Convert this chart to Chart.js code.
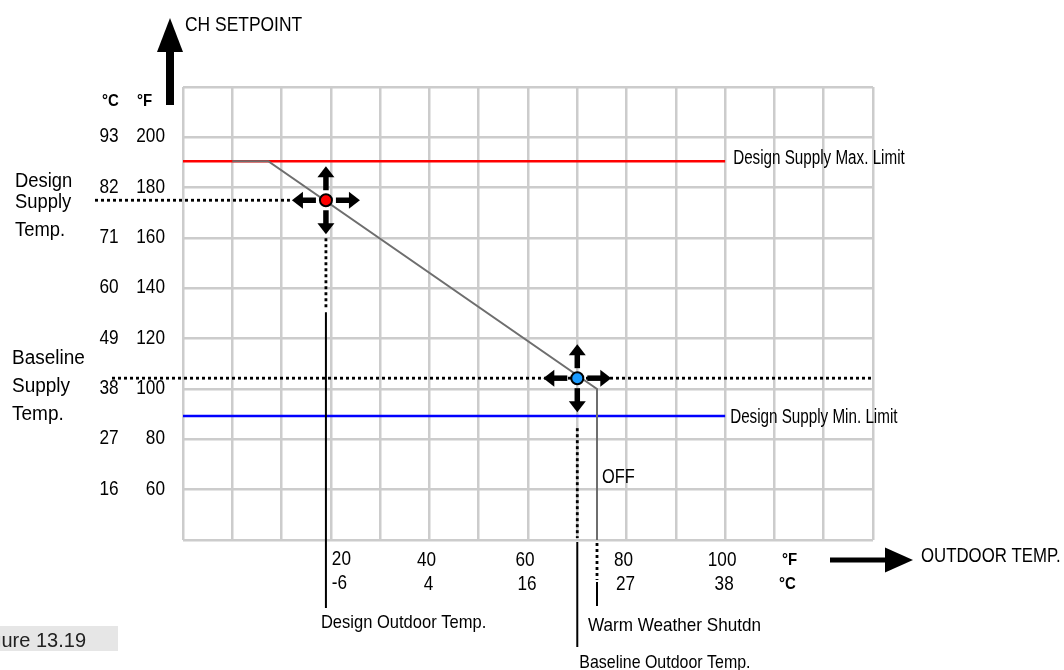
<!DOCTYPE html>
<html>
<head>
<meta charset="utf-8">
<script src="https://cdn.jsdelivr.net/npm/chart.js@4"></script>
<style>
  html, body { margin: 0; padding: 0; background: #fff; }
  #wrap { width: 1064px; height: 670px; position: relative; }
</style>
</head>
<body>
<div id="wrap"><canvas id="resetChart"></canvas></div>
<script>
// tick labels (two unit rows / columns)
var xTicksF = [20, 40, 60, 80, 100];
var xTicksC = [-6, 4, 16, 27, 38];
var yTicksF = [200, 180, 160, 140, 120, 100, 80, 60];
var yTicksC = [93, 82, 71, 60, 49, 38, 27, 16];

// limits and reset curve, outdoor °F vs setpoint °F
var limitX = [-10, 100];
var maxLimitF = 190.5;
var minLimitF = 89.3;
var resetX = [0, 7.3, 74, 74];
var resetY = [190.5, 190.5, 100, 40];
var designPoint = [19, 175];
var baselinePoint = [70, 104.3];
var shutdownF = 74;

function txt(ctx, s, x, y, size, sx, align, bold) {
    ctx.save();
    ctx.font = (bold ? 'bold ' : '') + size + 'px "Liberation Sans", Arial, sans-serif';
    ctx.translate(x, y);
    ctx.scale(sx, 1);
    ctx.textAlign = align || 'left';
    ctx.textBaseline = 'alphabetic';
    ctx.fillStyle = '#000';
    ctx.fillText(s, 0, 0);
    ctx.restore();
}

// arrow from (x0,y0) to tip (x1,y1)
function arrow(ctx, x0, y0, x1, y1, shaftW, headL, headW) {
    var dx = x1 - x0, dy = y1 - y0;
    var len = Math.sqrt(dx * dx + dy * dy);
    var ux = dx / len, uy = dy / len;
    var bx = x1 - ux * headL, by = y1 - uy * headL;
    ctx.save();
    ctx.strokeStyle = '#000';
    ctx.fillStyle = '#000';
    ctx.lineWidth = shaftW;
    ctx.lineCap = 'butt';
    ctx.beginPath();
    ctx.moveTo(x0, y0);
    ctx.lineTo(bx + ux, by + uy);
    ctx.stroke();
    ctx.beginPath();
    ctx.moveTo(x1, y1);
    ctx.lineTo(bx - uy * headW / 2, by + ux * headW / 2);
    ctx.lineTo(bx + uy * headW / 2, by - ux * headW / 2);
    ctx.closePath();
    ctx.fill();
    ctx.restore();
}

function seg(ctx, x0, y0, x1, y1, w, dotted) {
    ctx.save();
    ctx.strokeStyle = '#000';
    ctx.lineWidth = w;
    if (dotted) ctx.setLineDash([3, 3]);
    ctx.beginPath();
    ctx.moveTo(x0, y0);
    ctx.lineTo(x1, y1);
    ctx.stroke();
    ctx.restore();
}

function crosshair(ctx, cx, cy) {
    var r0 = 10, r1 = 34;
    arrow(ctx, cx, cy - r0, cx, cy - r1, 5.5, 11, 17);
    arrow(ctx, cx, cy + r0, cx, cy + r1, 5.5, 11, 17);
    arrow(ctx, cx - r0, cy, cx - r1, cy, 5.5, 11, 17);
    arrow(ctx, cx + r0, cy, cx + r1, cy, 5.5, 11, 17);
}

var diagram = {
    id: 'diagram',
    beforeDatasetsDraw: function (chart) {
        var ctx = chart.ctx, a = chart.chartArea;
        var xs = chart.scales.x, ys = chart.scales.y;
        var dx = xs.getPixelForValue(designPoint[0]), dy = ys.getPixelForValue(designPoint[1]);
        var bx = xs.getPixelForValue(baselinePoint[0]), by = ys.getPixelForValue(baselinePoint[1]);
        // dotted guides
        seg(ctx, a.left - 88, dy, dx - 36, dy, 2.8, true);
        seg(ctx, a.left - 71, by, a.right - 2, by, 2.8, true);
        seg(ctx, dx, dy + 38, dx, dy + 110, 2.8, true);
        seg(ctx, bx, by + 50, bx, a.bottom - 2, 2.8, true);
    },
    afterDatasetsDraw: function (chart) {
        var ctx = chart.ctx, a = chart.chartArea;
        var xs = chart.scales.x, ys = chart.scales.y;
        var dx = xs.getPixelForValue(designPoint[0]), dy = ys.getPixelForValue(designPoint[1]);
        var bx = xs.getPixelForValue(baselinePoint[0]), by = ys.getPixelForValue(baselinePoint[1]);
        var sx = xs.getPixelForValue(shutdownF);

        crosshair(ctx, dx, dy);
        crosshair(ctx, bx, by);

        // leader lines to the bottom labels
        seg(ctx, dx, dy + 112, dx, a.bottom + 68, 2, false);
        seg(ctx, bx, a.bottom + 2, bx, a.bottom + 107, 2, false);
        seg(ctx, sx, a.bottom + 3, sx, a.bottom + 40, 2.8, true);
        seg(ctx, sx, a.bottom + 42, sx, a.bottom + 66, 2, false);

        // axis arrows
        arrow(ctx, a.left - 13, a.top + 18, a.left - 13, 18, 8, 34, 26);
        arrow(ctx, a.right - 43, a.bottom + 20, a.right + 40, a.bottom + 20, 5, 28, 25);
        txt(ctx, 'CH SETPOINT', a.left + 2, 31, 21, 0.83);
        txt(ctx, 'OUTDOOR TEMP.', a.right + 48, a.bottom + 22, 21, 0.8);

        // y tick labels
        txt(ctx, '°C', 102, 106, 17, 0.88, 'left', true);
        txt(ctx, '°F', 137, 106, 17, 0.88, 'left', true);
        yTicksF.forEach(function (v, i) {
            var y = ys.getPixelForValue(v) + 5;
            txt(ctx, String(yTicksC[i]), 109, y, 21, 0.82, 'center');
            txt(ctx, String(v), 165, y, 21, 0.82, 'right');
        });

        // x tick labels
        xTicksF.forEach(function (v, i) {
            var x = xs.getPixelForValue(v);
            if (i === 0) {
                txt(ctx, String(v), x + 1, a.bottom + 25, 19.5, 0.88, 'left');
                txt(ctx, String(xTicksC[i]), x + 1, a.bottom + 49, 19.5, 0.88, 'left');
            } else {
                txt(ctx, String(v), x - 3, a.bottom + 26, 19.5, 0.88, 'center');
                txt(ctx, String(xTicksC[i]), x - 1, a.bottom + 50, 19.5, 0.88, 'center');
            }
        });
        txt(ctx, '°F', 782, a.bottom + 25, 17, 0.88, 'left', true);
        txt(ctx, '°C', 779, a.bottom + 49, 17, 0.88, 'left', true);

        // limit labels
        var lx = xs.getPixelForValue(limitX[1]);
        txt(ctx, 'Design Supply Max. Limit', lx + 8, ys.getPixelForValue(maxLimitF) + 3, 19.5, 0.78);
        txt(ctx, 'Design Supply Min. Limit', lx + 5, ys.getPixelForValue(minLimitF) + 7, 19.5, 0.78);
        txt(ctx, 'OFF', sx + 5, ys.getPixelForValue(60) - 7, 20, 0.82);

        // side labels
        txt(ctx, 'Design', 15, 187, 20, 0.92);
        txt(ctx, 'Supply', 15, 208, 20, 0.92);
        txt(ctx, 'Temp.', 15, 236, 20, 0.92);
        txt(ctx, 'Baseline', 12, 364, 20, 0.95);
        txt(ctx, 'Supply', 12, 392, 20, 0.95);
        txt(ctx, 'Temp.', 12, 420, 20, 0.95);

        // bottom labels
        txt(ctx, 'Design Outdoor Temp.', dx - 5, a.bottom + 88, 19, 0.87);
        txt(ctx, 'Warm Weather Shutdn', sx - 9, a.bottom + 91, 19, 0.9);
        txt(ctx, 'Baseline Outdoor Temp.', bx + 2, a.bottom + 128, 19, 0.84);

        // figure caption box
        ctx.save();
        ctx.fillStyle = '#e6e6e6';
        ctx.fillRect(0, 626, 118, 25);
        ctx.restore();
        ctx.save();
        ctx.font = '20px "Liberation Sans", Arial, sans-serif';
        ctx.fillStyle = '#222';
        ctx.textAlign = 'right';
        ctx.fillText('Figure 13.19', 86, 647);
        ctx.restore();
    }
};

function pairs(xs, ys) {
    return xs.map(function (x, i) { return { x: x, y: ys[i] }; });
}

var ctx = document.getElementById('resetChart');
if (ctx) {
    new Chart(ctx, {
        type: 'scatter',
        data: {
            datasets: [{
                label: 'Design point',
                data: [{ x: designPoint[0], y: designPoint[1] }],
                pointRadius: 6,
                pointBorderWidth: 2,
                borderColor: '#000',
                backgroundColor: '#ff0000',
                order: 0
            }, {
                label: 'Baseline point',
                data: [{ x: baselinePoint[0], y: baselinePoint[1] }],
                pointRadius: 6,
                pointBorderWidth: 2,
                borderColor: '#000',
                backgroundColor: '#1a9bff',
                order: 0
            }, {
                label: 'Reset',
                data: pairs(resetX, resetY),
                showLine: true,
                pointRadius: 0,
                borderColor: '#6e6e6e',
                borderWidth: 2,
                order: 1
            }, {
                label: 'Max limit',
                data: pairs(limitX, [maxLimitF, maxLimitF]),
                showLine: true,
                pointRadius: 0,
                borderColor: '#ff0000',
                borderWidth: 2.5,
                order: 2
            }, {
                label: 'Min limit',
                data: pairs(limitX, [minLimitF, minLimitF]),
                showLine: true,
                pointRadius: 0,
                borderColor: '#0000ff',
                borderWidth: 2.5,
                order: 2
            }]
        },
        options: {
            responsive: true,
            maintainAspectRatio: false,
            animation: false,
            events: [],
            layout: { padding: { left: 183, top: 87, right: 191, bottom: 130 } },
            scales: {
                x: {
                    type: 'linear', min: -10, max: 130,
                    ticks: { display: false, stepSize: 10 },
                    border: { display: false },
                    grid: { color: '#cccccc', lineWidth: 2.5, drawTicks: false }
                },
                y: {
                    type: 'linear', min: 40, max: 220,
                    ticks: { display: false, stepSize: 20 },
                    border: { display: false },
                    grid: { color: '#cccccc', lineWidth: 2.5, drawTicks: false }
                }
            },
            plugins: { legend: { display: false }, tooltip: { enabled: false } }
        },
        plugins: [diagram]
    });
} else {
    console.error("Canvas 'resetChart' not found.");
}
</script>
</body>
</html>
